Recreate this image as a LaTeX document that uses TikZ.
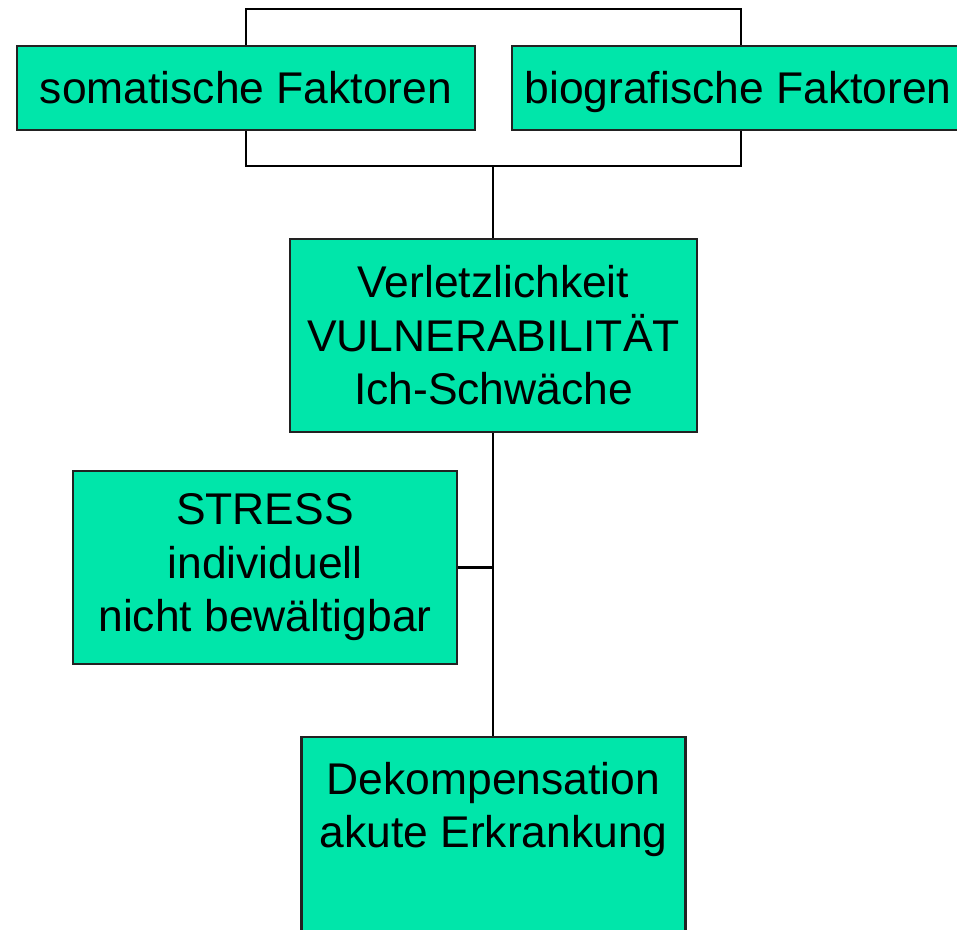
\documentclass[tikz,border=0pt]{standalone}
\usepackage{fontspec}
\setmainfont{Liberation Sans}
\definecolor{boxgreen}{HTML}{00E6AA}
\definecolor{boxline}{HTML}{222222}
\begin{document}
\begin{tikzpicture}[x=1pt,y=-1pt,
  box/.style={draw=boxline,fill=boxgreen,line width=2.8pt,inner sep=0pt,
    align=center,font=\fontsize{44.4}{53.5}\selectfont},
  txt/.style={inner sep=0pt,align=center,font=\fontsize{44.4}{53.5}\selectfont},
  conn/.style={draw=black,line width=2.8pt}]
\useasboundingbox (0,0) rectangle (957,929);
\node[box,minimum width=458pt,minimum height=84pt] (som) at (246,88) {somatische Faktoren};
\node[box,minimum width=458pt,minimum height=84pt] (bio) at (741,88) {};
\path (som.base) ++(492,0) node[txt,anchor=base] (biotext) {biografische Faktoren};
\node[box,minimum width=407pt,minimum height=193pt] (vul) at (493.5,335.5) {Verletzlichkeit\\VULNERABILIT\"AT\\Ich-Schw\"ache};
\node[box,minimum width=384pt,minimum height=193pt] (stress) at (265,567.5) {STRESS\\individuell\\nicht bew\"altigbar};
\node[box,minimum width=384pt,minimum height=250pt] (dek) at (493.5,862) {};
\node[txt] (dektext) at (493.5,809.5) {Dekompensation\\akute Erkrankung};
\coordinate (top) at (493,9);
\coordinate (bot) at (493,166);
\draw[conn] (som.north) |- (top) -| (bio.north);
\draw[conn] (som.south) |- (bot) -| (bio.south);
\draw[conn] (bot) -- (bot |- vul.north);
\draw[conn] (vul.south -| bot) -- (dek.north -| bot);
\draw[conn] (stress.east) -- (stress.east -| bot);
\end{tikzpicture}
\end{document}
